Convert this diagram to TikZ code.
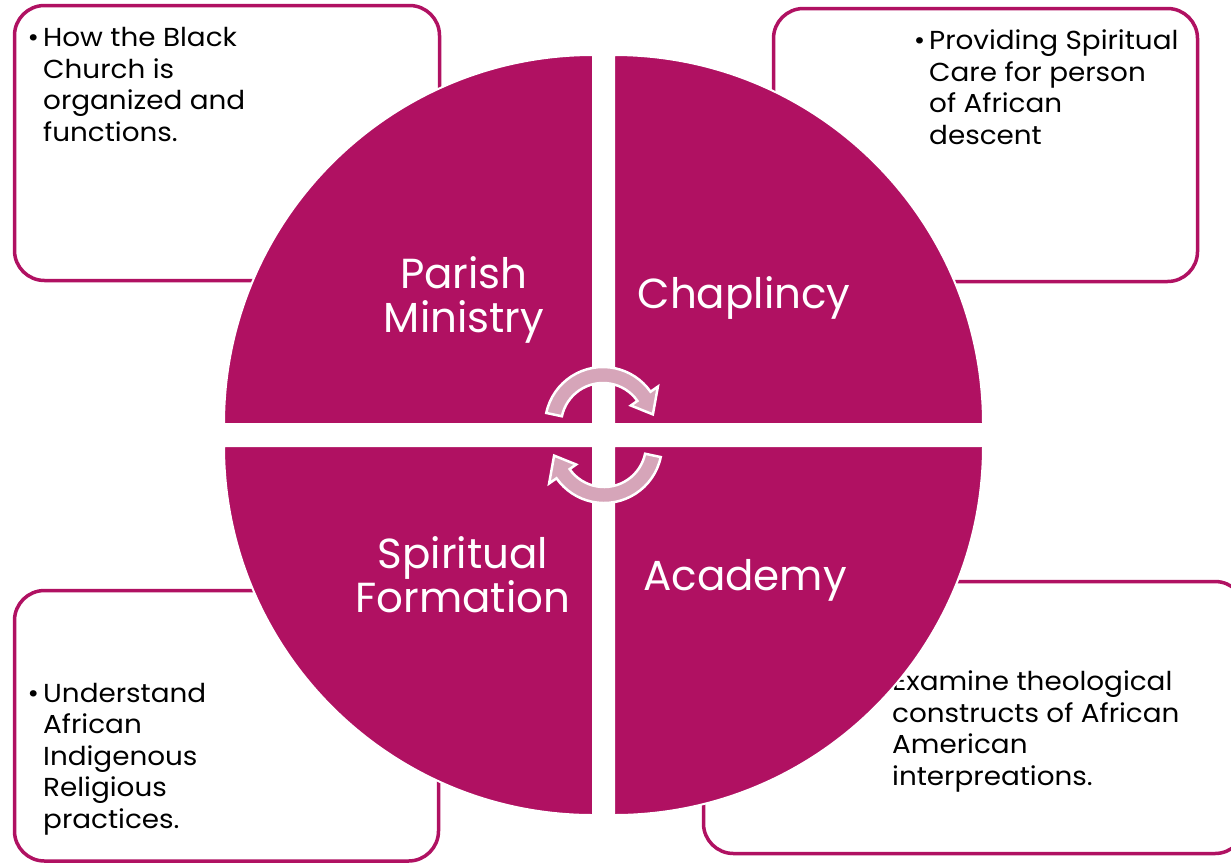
\documentclass[tikz,border=0pt]{standalone}
\usepackage{fontspec}
\setmainfont{Poppins}
\newfontfamily\boxfont[FakeStretch=1.07]{Poppins}
\usetikzlibrary{calc}
\definecolor{mag}{HTML}{B01162}
\definecolor{arrowpink}{HTML}{D6A5B9}
\tikzset{
  infobox/.style={draw=mag, line width=3.5pt, rounded corners=30pt, fill=white},
  quad/.style={fill=mag, draw=white, line width=2pt},
  boxtext/.style={anchor=base west, align=left, inner sep=0pt, font=\boxfont\fontsize{26}{31.5}\selectfont, text=black},
  quadlabel/.style={anchor=base, align=center, inner sep=0pt, font=\fontsize{42}{44}\selectfont, text=white},
  cyclearrow/.style={fill=arrowpink, draw=white, line width=2.5pt, line join=miter},
}
\newcommand{\bul}{\llap{•\hspace{4pt}}}
\begin{document}
\begin{tikzpicture}[x=1pt,y=-1pt]
\fill[white] (0,0) rectangle (1231,863);
\useasboundingbox (0,0) rectangle (1231,863);

% boxes
\path[infobox] (14.5,5.5) rectangle (439.5,280.5);
\path[infobox] (773.5,8.5) rectangle (1197.5,281.5);
\path[infobox] (14.5,590.5) rectangle (438.5,861);
\path[infobox] (703.5,581.5) rectangle (1245,853.5);

% box texts (anchor = baseline of the last line)
\node[boxtext] (tTL) at (43,141) {\bul How the Black\\Church is\\organized and\\functions.};
\node[boxtext] (tTR) at (929,144) {\bul Providing Spiritual\\Care for person\\of African\\descent};
\node[boxtext] (tBL) at (43,828) {\bul Understand\\African\\Indigenous\\Religious\\practices.};
\node[boxtext] (tBR) at (892,785) {\bul Examine theological\\constructs of African\\American\\interpreations.};

% quadrants
\path[quad] (593,424) -- (224,424) arc[start angle=180, end angle=270, radius=369] -- cycle;
\path[quad] (614,424) -- (614,55) arc[start angle=270, end angle=360, radius=369] -- cycle;
\path[quad] (614,446) -- (983,446) arc[start angle=0, end angle=90, radius=369] -- cycle;
\path[quad] (593,446) -- (593,815) arc[start angle=90, end angle=180, radius=369] -- cycle;

% labels
\node[quadlabel] (lPM) at (464,332) {Parish\\Ministry};
\node[quadlabel] (lCH) at (744,308) {Chaplincy};
\node[quadlabel] (lSF) at (463,612) {Spiritual\\Formation};
\node[quadlabel] (lAC) at (745,590) {Academy};

% cycle arrows
\coordinate (C1) at (603,425);
\coordinate (C2) at (604,445);
\path[cyclearrow] ($(C1)+(-168:58)$) arc[start angle=-168, end angle=-35, radius=58]
  -- ($(C1)+(-35:67)$) -- ($(C1)+(-12:51)$) -- ($(C1)+(-35:34)$) -- ($(C1)+(-35:42)$)
  arc[start angle=-35, end angle=-168, radius=42] -- cycle;
\path[cyclearrow] ($(C2)+(12:58)$) arc[start angle=12, end angle=145, radius=58]
  -- ($(C2)+(145:67)$) -- ($(C2)+(168:51)$) -- ($(C2)+(145:34)$) -- ($(C2)+(145:42)$)
  arc[start angle=145, end angle=12, radius=42] -- cycle;
\end{tikzpicture}
\end{document}
